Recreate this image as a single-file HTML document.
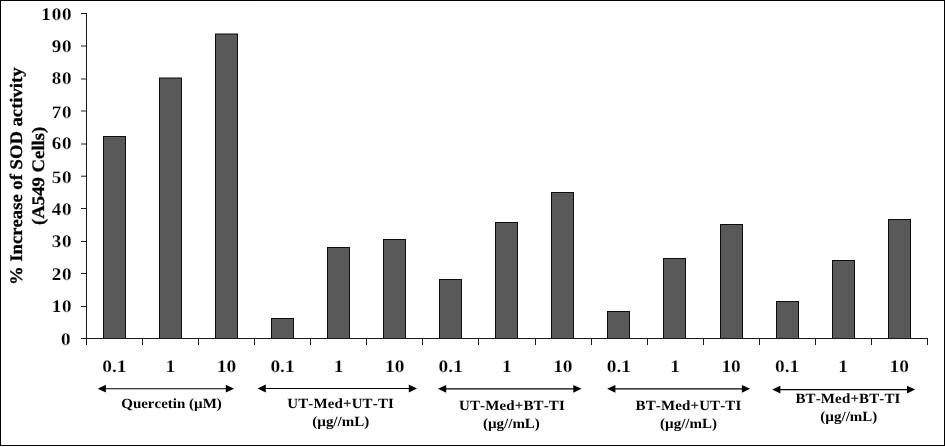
<!DOCTYPE html>
<html lang="en"><head><meta charset="utf-8"><title>SOD activity chart</title>
<style>
html,body{margin:0;padding:0;background:#fff;}
body{width:945px;height:447px;overflow:hidden;}
svg{display:block;will-change:transform;opacity:0.999;}
text{font-family:"Liberation Serif", "DejaVu Serif", serif;font-weight:bold;fill:#000;font-kerning:none;text-rendering:geometricPrecision;}
.th{stroke:#fff;stroke-width:0.15px;}
.bd{stroke:#000;stroke-width:0.3px;}
.ln{stroke:#1a1a1a;stroke-width:1;shape-rendering:crispEdges;fill:none;}
.bar{fill:#595959;stroke:#0d0d0d;stroke-width:1;shape-rendering:crispEdges;}
</style></head><body>
<svg width="945" height="447" viewBox="0 0 945 447">
<rect x="0" y="0" width="945" height="447" fill="#fff"/>
<rect x="0.5" y="0.5" width="944" height="445" fill="none" stroke="#000" stroke-width="1" shape-rendering="crispEdges"/>
<rect class="bar" x="103.5" y="136.5" width="22" height="202.0"/>
<rect class="bar" style="shape-rendering:auto" x="159.5" y="78.0" width="22" height="260.5"/>
<rect class="bar" style="shape-rendering:auto" x="215.5" y="34.0" width="22" height="304.5"/>
<rect class="bar" x="271.5" y="318.5" width="22" height="20.0"/>
<rect class="bar" x="327.5" y="247.5" width="22" height="91.0"/>
<rect class="bar" x="383.5" y="239.5" width="22" height="99.0"/>
<rect class="bar" x="439.5" y="279.5" width="22" height="59.0"/>
<rect class="bar" x="495.5" y="222.5" width="22" height="116.0"/>
<rect class="bar" x="551.5" y="192.5" width="22" height="146.0"/>
<rect class="bar" x="607.5" y="311.5" width="22" height="27.0"/>
<rect class="bar" x="663.5" y="258.5" width="22" height="80.0"/>
<rect class="bar" x="720.5" y="224.5" width="22" height="114.0"/>
<rect class="bar" x="776.5" y="301.5" width="22" height="37.0"/>
<rect class="bar" x="832.5" y="260.5" width="22" height="78.0"/>
<rect class="bar" x="888.5" y="219.5" width="22" height="119.0"/>
<path class="ln" d="M86.5 13.0 V345.0"/>
<path class="ln" d="M81.0 338.5 H928.0"/>
<text transform="translate(71.30 344.90) scale(1.075 1.000)" font-size="17.75" text-anchor="end" letter-spacing="0.76" class="th">0</text>
<path class="ln" d="M81.0 306.5 H86.0"/>
<text transform="translate(72.40 312.10) scale(1.075 1.000)" font-size="17.75" text-anchor="end" letter-spacing="0.76" class="th">10</text>
<path class="ln" d="M81.0 273.5 H86.0"/>
<text transform="translate(72.40 279.90) scale(1.075 1.000)" font-size="17.75" text-anchor="end" letter-spacing="0.76" class="th">20</text>
<path class="ln" d="M81.0 241.5 H86.0"/>
<text transform="translate(72.40 246.85) scale(1.075 1.000)" font-size="17.75" text-anchor="end" letter-spacing="0.76" class="th">30</text>
<path class="ln" d="M81.0 208.5 H86.0"/>
<text transform="translate(72.40 214.67) scale(1.075 1.000)" font-size="17.75" text-anchor="end" letter-spacing="0.76" class="th">40</text>
<path class="ln" style="shape-rendering:auto" d="M81.0 176.20 H86.0"/>
<text transform="translate(72.40 182.57) scale(1.075 1.000)" font-size="17.75" text-anchor="end" letter-spacing="0.76" class="th">50</text>
<path class="ln" style="shape-rendering:auto" d="M81.0 144.00 H86.0"/>
<text transform="translate(72.40 149.40) scale(1.075 1.000)" font-size="17.75" text-anchor="end" letter-spacing="0.76" class="th">60</text>
<path class="ln" style="shape-rendering:auto" d="M81.0 111.00 H86.0"/>
<text transform="translate(72.40 117.57) scale(1.075 1.000)" font-size="17.75" text-anchor="end" letter-spacing="0.76" class="th">70</text>
<path class="ln" style="shape-rendering:auto" d="M81.0 79.00 H86.0"/>
<text transform="translate(72.40 84.45) scale(1.075 1.000)" font-size="17.75" text-anchor="end" letter-spacing="0.76" class="th">80</text>
<path class="ln" style="shape-rendering:auto" d="M81.0 46.00 H86.0"/>
<text transform="translate(72.40 52.30) scale(1.075 1.000)" font-size="17.75" text-anchor="end" letter-spacing="0.76" class="th">90</text>
<path class="ln" d="M81.0 13.5 H86.0"/>
<text transform="translate(72.40 20.20) scale(1.075 1.000)" font-size="17.75" text-anchor="end" letter-spacing="0.76" class="th">100</text>
<path class="ln" d="M142.5 338.0 V345.0"/>
<path class="ln" d="M198.5 338.0 V345.0"/>
<path class="ln" d="M254.5 338.0 V345.0"/>
<path class="ln" d="M310.5 338.0 V345.0"/>
<path class="ln" d="M366.5 338.0 V345.0"/>
<path class="ln" d="M422.5 338.0 V345.0"/>
<path class="ln" d="M478.5 338.0 V345.0"/>
<path class="ln" d="M535.5 338.0 V345.0"/>
<path class="ln" d="M591.5 338.0 V345.0"/>
<path class="ln" d="M647.5 338.0 V345.0"/>
<path class="ln" d="M703.5 338.0 V345.0"/>
<path class="ln" d="M759.5 338.0 V345.0"/>
<path class="ln" d="M815.5 338.0 V345.0"/>
<path class="ln" d="M871.5 338.0 V345.0"/>
<path class="ln" d="M927.5 338.0 V345.0"/>
<text transform="translate(114.33 372.20) scale(1.108 1.000)" font-size="17.5" text-anchor="middle" class="th">0.1</text>
<text transform="translate(170.40 372.20) scale(1.108 1.000)" font-size="17.5" text-anchor="middle" class="th">1</text>
<text transform="translate(226.47 372.20) scale(1.108 1.000)" font-size="17.5" text-anchor="middle" class="th">10</text>
<text transform="translate(282.53 372.20) scale(1.108 1.000)" font-size="17.5" text-anchor="middle" class="th">0.1</text>
<text transform="translate(338.60 372.20) scale(1.108 1.000)" font-size="17.5" text-anchor="middle" class="th">1</text>
<text transform="translate(394.67 372.20) scale(1.108 1.000)" font-size="17.5" text-anchor="middle" class="th">10</text>
<text transform="translate(450.73 372.20) scale(1.108 1.000)" font-size="17.5" text-anchor="middle" class="th">0.1</text>
<text transform="translate(506.80 372.20) scale(1.108 1.000)" font-size="17.5" text-anchor="middle" class="th">1</text>
<text transform="translate(562.87 372.20) scale(1.108 1.000)" font-size="17.5" text-anchor="middle" class="th">10</text>
<text transform="translate(618.93 372.20) scale(1.108 1.000)" font-size="17.5" text-anchor="middle" class="th">0.1</text>
<text transform="translate(675.00 372.20) scale(1.108 1.000)" font-size="17.5" text-anchor="middle" class="th">1</text>
<text transform="translate(731.07 372.20) scale(1.108 1.000)" font-size="17.5" text-anchor="middle" class="th">10</text>
<text transform="translate(787.13 372.20) scale(1.108 1.000)" font-size="17.5" text-anchor="middle" class="th">0.1</text>
<text transform="translate(843.20 372.20) scale(1.108 1.000)" font-size="17.5" text-anchor="middle" class="th">1</text>
<text transform="translate(899.27 372.20) scale(1.108 1.000)" font-size="17.5" text-anchor="middle" class="th">10</text>
<text transform="translate(22.40 176.20) rotate(-90) scale(1.008 0.950)" font-size="18.5" text-anchor="middle" class="bd">% Increase of SOD activity</text>
<text transform="translate(44.00 175.80) rotate(-90) scale(1.012 0.950)" font-size="18.5" text-anchor="middle" class="bd">(A549 Cells)</text>
<path d="M103.7 388.7 H228.0" stroke="#000" stroke-width="1.15" fill="none"/>
<path d="M97.7 388.7 l8.2 -3.9 v7.8 z" fill="#000"/>
<path d="M234.0 388.7 l-8.2 -3.9 v7.8 z" fill="#000"/>
<text transform="translate(171.50 407.80) scale(1.070 1.000)" font-size="14" text-anchor="middle">Quercetin (µM)</text>
<path d="M263.6 388.5 H411.0" stroke="#000" stroke-width="1.15" fill="none"/>
<path d="M257.6 388.5 l8.2 -3.9 v7.8 z" fill="#000"/>
<path d="M417.0 388.5 l-8.2 -3.9 v7.8 z" fill="#000"/>
<text transform="translate(340.60 407.70) scale(1.070 1.000)" font-size="14" text-anchor="middle" letter-spacing="0.13">UT-Med+UT-TI</text>
<text transform="translate(340.70 425.70) scale(1.070 1.000)" font-size="14" text-anchor="middle">(µg//mL)</text>
<path d="M444.0 388.8 H575.5" stroke="#000" stroke-width="1.15" fill="none"/>
<path d="M438.0 388.8 l8.2 -3.9 v7.8 z" fill="#000"/>
<path d="M581.5 388.8 l-8.2 -3.9 v7.8 z" fill="#000"/>
<text transform="translate(512.00 409.50) scale(1.070 1.000)" font-size="14" text-anchor="middle" letter-spacing="0.13">UT-Med+BT-TI</text>
<text transform="translate(511.40 427.50) scale(1.070 1.000)" font-size="14" text-anchor="middle">(µg//mL)</text>
<path d="M613.2 388.8 H744.1" stroke="#000" stroke-width="1.15" fill="none"/>
<path d="M607.2 388.8 l8.2 -3.9 v7.8 z" fill="#000"/>
<path d="M750.1 388.8 l-8.2 -3.9 v7.8 z" fill="#000"/>
<text transform="translate(688.50 409.80) scale(1.070 1.000)" font-size="14" text-anchor="middle" letter-spacing="0.13">BT-Med+UT-TI</text>
<text transform="translate(688.50 427.80) scale(1.070 1.000)" font-size="14" text-anchor="middle">(µg//mL)</text>
<path d="M778.2 389.6 H909.2" stroke="#000" stroke-width="1.15" fill="none"/>
<path d="M772.2 389.6 l8.2 -3.9 v7.8 z" fill="#000"/>
<path d="M915.2 389.6 l-8.2 -3.9 v7.8 z" fill="#000"/>
<text transform="translate(848.00 402.60) scale(1.070 1.000)" font-size="14" text-anchor="middle" letter-spacing="0.13">BT-Med+BT-TI</text>
<text transform="translate(848.80 421.20) scale(1.070 1.000)" font-size="14" text-anchor="middle">(µg//mL)</text>
</svg></body></html>
